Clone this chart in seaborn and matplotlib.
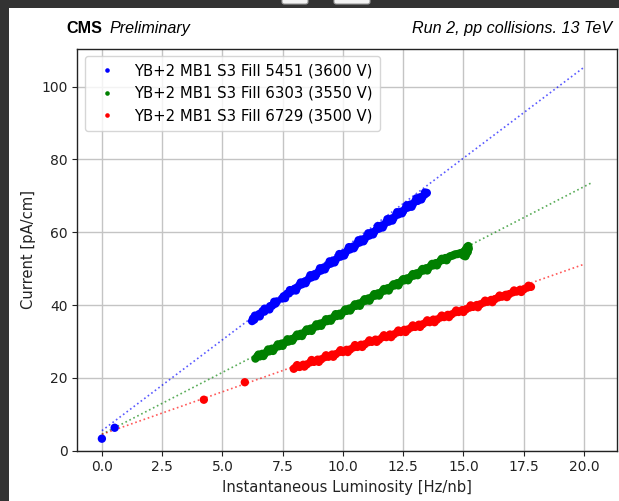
import matplotlib
matplotlib.use("Agg")
import matplotlib.pyplot as plt
from matplotlib.patches import Rectangle, FancyBboxPatch
import seaborn as sns
import pandas as pd

# ---------------- data ----------------
labels = ["YB+2 MB1 S3 Fill 5451 (3600 V)",
          "YB+2 MB1 S3 Fill 6303 (3550 V)",
          "YB+2 MB1 S3 Fill 6729 (3500 V)"]
colors = ["#0000ff", "#008000", "#ff0000"]

blue_x = [0.0, 0.53, 6.23, 6.27, 6.32, 6.38, 6.45, 6.52, 6.58, 6.66, 6.74, 6.82, 6.90, 6.98, 7.06, 7.13,
          7.20, 7.26, 7.48, 7.54, 7.60, 7.68, 7.76, 7.84, 7.92, 8.00, 8.10, 8.20, 8.30, 8.40, 8.50, 8.60,
          8.70, 8.80, 8.90, 9.00, 9.10, 9.20, 9.30, 9.40, 9.50, 9.60, 9.70, 9.80, 9.90, 10.00, 10.10,
          10.20, 10.30, 10.40, 10.50, 10.60, 10.70, 10.80, 10.90, 11.00, 11.10, 11.20, 11.30, 11.40,
          11.50, 11.60, 11.70, 11.80, 11.90, 12.00, 12.10, 12.20, 12.30, 12.40, 12.50, 12.60, 12.70,
          12.80, 12.90, 13.00, 13.10, 13.20, 13.30, 13.40, 13.48]
blue_y = [3.3, 6.3, 35.6, 36.3, 36.0, 36.8, 36.9, 37.5, 37.6, 38.3, 38.2, 38.9, 39.0, 39.7, 39.8, 40.3,
          40.4, 41.0, 41.8, 42.4, 42.5, 43.1, 43.2, 43.8, 44.0, 44.5, 44.8, 45.5, 45.7, 46.4, 46.7, 47.4,
          47.6, 48.4, 48.5, 49.3, 49.5, 50.3, 50.5, 51.2, 51.4, 52.2, 52.4, 53.2, 53.3, 54.1, 54.3,
          55.1, 55.3, 56.0, 56.2, 57.0, 57.2, 58.0, 58.1, 58.9, 59.1, 59.9, 60.1, 60.8,
          61.0, 61.8, 62.0, 62.8, 62.9, 63.7, 63.9, 64.7, 64.9, 65.6, 65.8, 66.6, 66.8,
          67.6, 67.7, 68.5, 68.6, 69.6, 69.7, 70.4, 70.8]
blue_x_extra = [6.35, 6.55, 6.75, 6.95, 7.15, 7.60, 7.80, 8.05, 8.25, 8.45, 8.65, 8.85, 9.05, 9.25,
                9.45, 9.65, 9.85, 10.05, 10.25, 10.45, 10.65, 10.85, 11.05, 11.25, 11.45, 11.65,
                11.85, 12.05, 12.25, 12.45, 12.65, 12.85, 13.05, 13.25, 13.40]
blue_y_extra = [37.1, 36.9, 39.0, 38.8, 40.9, 41.9, 44.1, 44.0, 46.2, 46.0, 48.2, 47.9, 50.1, 49.8,
                52.0, 51.7, 54.0, 53.6, 55.9, 55.6, 57.8, 57.5, 59.7, 59.4, 61.7, 61.3,
                63.6, 63.2, 65.5, 65.2, 67.4, 67.0, 69.3, 69.0, 70.9]

green_x = [6.37, 6.45, 6.55, 6.65, 6.75, 6.85, 6.95, 7.05, 7.15, 7.25, 7.35, 7.45, 7.55, 7.65, 7.75, 7.85,
           7.95, 8.05, 8.15, 8.25, 8.35, 8.45, 8.55, 8.65, 8.75, 8.85, 8.95, 9.05, 9.15, 9.25, 9.35, 9.45,
           9.55, 9.65, 9.75, 9.85, 9.95, 10.05, 10.15, 10.25, 10.35, 10.45, 10.55, 10.65, 10.75, 10.85,
           10.95, 11.05, 11.15, 11.25, 11.35, 11.45, 11.55, 11.65, 11.75, 11.85, 11.95, 12.05, 12.15,
           12.25, 12.35, 12.45, 12.55, 12.65, 12.75, 12.85, 12.95, 13.05, 13.15, 13.25, 13.35, 13.45,
           13.55, 13.65, 13.75, 13.85, 13.95, 14.05, 14.15, 14.25, 14.35, 14.45, 14.55, 14.65, 14.75,
           14.85, 14.95, 15.05, 15.10, 15.15, 15.20, 15.22, 15.18, 15.12, 15.00, 15.08]
green_y = [25.3, 25.9, 25.9, 26.6, 26.6, 27.2, 27.3, 28.0, 28.0, 28.6, 28.7, 29.4, 29.5, 29.9, 30.0, 30.6,
           30.8, 31.4, 31.5, 32.1, 32.2, 32.8, 32.9, 33.5, 33.6, 34.1, 34.2, 34.9, 35.0, 35.5, 35.6, 36.2,
           36.3, 36.9, 37.0, 37.6, 37.7, 38.3, 38.4, 39.0, 39.1, 39.7, 39.8, 40.4, 40.5, 41.1,
           41.2, 41.8, 41.9, 42.5, 42.6, 43.2, 43.3, 43.9, 44.0, 44.6, 44.7, 45.3, 45.4,
           46.0, 46.1, 46.7, 46.8, 47.3, 47.4, 48.0, 48.1, 48.7, 48.8, 49.4, 49.5, 50.1,
           50.2, 50.8, 50.9, 51.5, 51.6, 52.2, 52.4, 52.9, 53.0, 53.4, 53.6, 53.9, 54.0,
           54.2, 54.4, 54.8, 55.3, 55.9, 56.2, 55.5, 54.6, 54.0, 53.6, 53.4]
green_x_extra = [6.50, 6.70, 6.90, 7.10, 7.30, 7.50, 7.70, 7.90, 8.10, 8.30, 8.50, 8.70, 8.90, 9.10,
                 9.30, 9.50, 9.70, 9.90, 10.10, 10.30, 10.50, 10.70, 10.90, 11.10, 11.30, 11.50,
                 11.70, 11.90, 12.10, 12.30, 12.50, 12.70, 12.90, 13.10, 13.30, 13.50, 13.70, 13.90,
                 14.10, 14.30]
green_y_extra = [26.4, 26.0, 27.8, 27.4, 29.2, 28.8, 30.6, 30.2, 31.9, 31.5, 33.3, 32.9, 34.7, 34.3,
                 36.1, 35.7, 37.5, 37.1, 38.8, 38.5, 40.2, 39.8, 41.6, 41.2, 43.0, 42.6,
                 44.4, 44.0, 45.7, 45.4, 47.1, 46.8, 48.5, 48.2, 49.9, 49.5, 51.3, 50.9,
                 52.7, 52.3]

red_x = [4.23, 5.93, 7.96, 8.05, 8.20, 8.35, 8.50, 8.65, 8.80, 8.95, 9.10, 9.25, 9.40, 9.55, 9.70, 9.85,
         10.00, 10.15, 10.30, 10.45, 10.60, 10.75, 10.90, 11.05, 11.20, 11.35, 11.50, 11.65, 11.80,
         11.95, 12.10, 12.25, 12.40, 12.55, 12.70, 12.85, 13.00, 13.15, 13.30, 13.45, 13.60, 13.75,
         13.90, 14.05, 14.20, 14.35, 14.50, 14.65, 14.80, 14.95, 15.10, 15.25, 15.40, 15.55, 15.70,
         15.85, 16.00, 16.15, 16.30, 16.45, 16.60, 16.75, 16.90, 17.05, 17.20, 17.35, 17.50, 17.65, 17.80]
red_y = [14.0, 18.8, 22.5, 23.0, 23.0, 23.6, 23.7, 24.3, 24.4, 25.0, 25.1, 25.7, 25.8, 26.4, 26.5, 27.1,
         27.1, 27.7, 27.8, 28.4, 28.5, 29.1, 29.2, 29.8, 29.9, 30.5, 30.5, 31.2, 31.2,
         31.9, 31.9, 32.5, 32.6, 33.2, 33.3, 33.9, 34.0, 34.6, 34.7, 35.3, 35.3, 36.0,
         36.0, 36.6, 36.7, 37.3, 37.4, 38.0, 38.1, 38.6, 38.8, 39.3, 39.5, 40.0, 40.2,
         40.7, 40.9, 41.4, 41.6, 42.1, 42.3, 42.8, 43.0, 43.5, 43.7, 44.2, 44.3, 44.8, 45.0]
red_x_extra = [8.10, 8.40, 8.70, 9.00, 9.30, 9.60, 9.90, 10.20, 10.50, 10.80, 11.10, 11.40, 11.70,
               12.00, 12.30, 12.60, 12.90, 13.20, 13.50, 13.80, 14.10, 14.40, 14.70, 15.00, 15.30,
               15.60, 15.90, 16.20, 16.50, 16.80, 17.10, 17.40, 17.70]
red_y_extra = [23.5, 23.1, 24.9, 24.4, 26.2, 25.8, 27.6, 27.1, 29.0, 28.5, 30.3, 29.9, 31.7,
               31.2, 33.0, 32.6, 34.4, 34.0, 35.8, 35.3, 37.1, 36.7, 38.5, 38.1, 39.9,
               39.4, 41.2, 40.8, 42.6, 42.2, 44.0, 43.6, 45.3]

# linear fit lines (end points)
blue_fit_x = [0.0, 20.0]
blue_fit_y = [5.5, 105.3]
green_fit_x = [0.0, 20.35]
green_fit_y = [4.5, 73.7]
red_fit_x = [0.0, 20.0]
red_fit_y = [4.5, 51.2]

xticks = [0.0, 2.5, 5.0, 7.5, 10.0, 12.5, 15.0, 17.5, 20.0]
yticks = [0, 20, 40, 60, 80, 100]

# ---------------- build frames ----------------
pts = pd.concat([
    pd.DataFrame({"x": blue_x + blue_x_extra, "y": blue_y + blue_y_extra, "series": labels[0]}),
    pd.DataFrame({"x": green_x + green_x_extra, "y": green_y + green_y_extra, "series": labels[1]}),
    pd.DataFrame({"x": red_x + red_x_extra, "y": red_y + red_y_extra, "series": labels[2]}),
], ignore_index=True)
fits = pd.concat([
    pd.DataFrame({"x": blue_fit_x, "y": blue_fit_y, "series": labels[0]}),
    pd.DataFrame({"x": green_fit_x, "y": green_fit_y, "series": labels[1]}),
    pd.DataFrame({"x": red_fit_x, "y": red_fit_y, "series": labels[2]}),
], ignore_index=True)
palette = dict(zip(labels, colors))

# ---------------- figure ----------------
W, H = 619, 501
fig = plt.figure(figsize=(W / 100, H / 100), dpi=100)
fig.patch.set_facecolor("#333333")
fig.patches.append(Rectangle((9 / W, 0), 1, (H - 8) / H, transform=fig.transFigure,
                             facecolor="white", edgecolor="none", zorder=-10))
for x0, w in [(282, 26), (334, 36)]:
    fig.patches.append(FancyBboxPatch((x0 / W, (H - 4) / H), w / W, 6 / H,
                                      boxstyle="round,pad=0,rounding_size=0.004",
                                      transform=fig.transFigure, facecolor="#f2f2f2",
                                      edgecolor="#9a9a9a", linewidth=0.8, zorder=-5))

ax = fig.add_axes([77.3 / W, (H - 450.7) / H, (617 - 77.3) / W, (450.7 - 48.7) / H])
ax.set_facecolor("white")

for lab in labels:
    sub = fits[fits["series"] == lab]
    sns.lineplot(data=sub, x="x", y="y", ax=ax, color=palette[lab], linestyle=":",
                 linewidth=1.2, alpha=0.65, legend=False, sort=False, zorder=2)

sns.scatterplot(data=pts, x="x", y="y", hue="series", hue_order=labels, palette=palette,
                s=36, linewidth=0, edgecolor="none", ax=ax, zorder=3)

ax.set_xlim(-1.02, 21.37)
ax.set_ylim(0, 110.4)
ax.set_xticks(xticks)
ax.set_yticks(yticks)
ax.grid(True, color="#c4c4c4", linewidth=1.0, zorder=0)
ax.set_axisbelow(True)
for sp in ax.spines.values():
    sp.set_color("#222222")
    sp.set_linewidth(1.0)
ax.tick_params(labelsize=10, colors="#222222")
ax.set_xlabel("Instantaneous Luminosity [Hz/nb]", fontsize=10.6, color="#222222")
ax.set_ylabel("Current [pA/cm]", fontsize=10.6, color="#222222")

leg = ax.legend(loc="upper left", fontsize=10.7, markerscale=0.55, framealpha=0.8,
                title=None, handletextpad=0.8, borderpad=0.5)
leg.get_frame().set_edgecolor("#cccccc")

fs_t = 11.6
fig.text(66 / W, (H - 33) / H, "CMS", fontsize=fs_t, fontweight="bold",
         family="Liberation Sans", color="black", ha="left", va="baseline")
fig.text(109 / W, (H - 33) / H, "Preliminary", fontsize=fs_t, style="italic",
         family="Liberation Sans", color="black", ha="left", va="baseline")
fig.text(612 / W, (H - 33) / H, "Run 2, pp collisions. 13 TeV", fontsize=fs_t, style="italic",
         family="Liberation Sans", color="black", ha="right", va="baseline")

fig.savefig("out.png", dpi=100, facecolor=fig.get_facecolor())
